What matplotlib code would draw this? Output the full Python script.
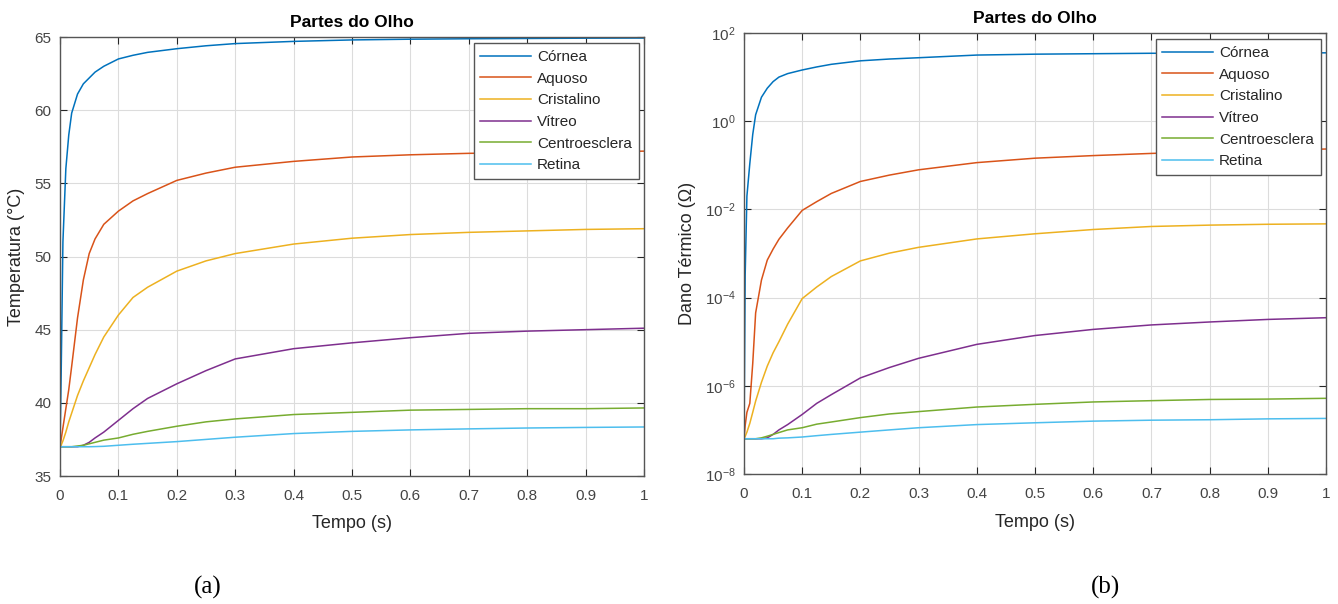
import numpy as np
import matplotlib
matplotlib.use("Agg")
import matplotlib.pyplot as plt

plt.rcParams['font.family'] = ['Liberation Sans', 'DejaVu Sans']
plt.rcParams['mathtext.fontset'] = 'custom'
plt.rcParams['mathtext.rm'] = 'Liberation Sans'
plt.rcParams['mathtext.it'] = 'Liberation Sans'

# tempo (s), same grid for every curve
tempo = [0, 0.002, 0.005, 0.01, 0.015, 0.02, 0.03, 0.04, 0.05, 0.06, 0.075, 0.1,
         0.125, 0.15, 0.2, 0.25, 0.3, 0.4, 0.5, 0.6, 0.7, 0.8, 0.9, 1.0]

partes = ["Córnea", "Aquoso", "Cristalino", "Vítreo", "Centroesclera", "Retina"]
cores = ["#0072BD", "#D95319", "#EDB120", "#7E2F8E", "#77AC30", "#4DBEEE"]

# (a) temperatura (graus C)
temp_cornea = [37, 42, 51, 56.0, 58.3, 59.8, 61.1, 61.8, 62.2, 62.6, 63.0, 63.5,
               63.75, 63.95, 64.2, 64.4, 64.55, 64.7, 64.8, 64.85, 64.88, 64.9, 64.92, 64.93]
temp_aquoso = [37, 37.5, 38.3, 39.6, 40.9, 42.5, 45.8, 48.4, 50.2, 51.2, 52.2, 53.1,
               53.8, 54.3, 55.2, 55.7, 56.1, 56.5, 56.8, 56.95, 57.05, 57.1, 57.15, 57.2]
temp_cristalino = [37, 37.1, 37.4, 38.0, 38.7, 39.3, 40.5, 41.5, 42.4, 43.3, 44.5, 46.0,
                   47.2, 47.9, 49.0, 49.7, 50.2, 50.85, 51.25, 51.5, 51.65, 51.75, 51.85, 51.9]
temp_vitreo = [37, 37, 37, 37, 37, 37, 37, 37.1, 37.3, 37.6, 38.0, 38.8,
               39.6, 40.3, 41.3, 42.2, 43.0, 43.7, 44.1, 44.45, 44.75, 44.9, 45.0, 45.1]
temp_centro = [37, 37, 37, 37, 37, 37, 37.05, 37.1, 37.2, 37.3, 37.45, 37.6,
               37.85, 38.05, 38.4, 38.7, 38.9, 39.2, 39.35, 39.5, 39.55, 39.6, 39.6, 39.65]
temp_retina = [37, 37, 37, 37, 37, 37, 37, 37, 37, 37.01, 37.03, 37.1,
               37.17, 37.23, 37.35, 37.5, 37.65, 37.9, 38.05, 38.15, 38.22, 38.28, 38.32, 38.35]

# (b) dano termico (Omega)
dano_cornea = [6.3e-8, 3.2e-4, 0.02, 0.11, 0.5, 1.4, 3.5, 5.6, 7.9, 10, 12, 14.5,
               17, 19.5, 23.4, 25.7, 27.5, 31.6, 33.1, 33.9, 34.7, 34.7, 35.5, 35.5]
dano_aquoso = [6.3e-8, 1.26e-7, 2.5e-7, 4e-7, 3.2e-6, 4.5e-5, 2.5e-4, 7.1e-4, 1.26e-3, 2.1e-3, 3.8e-3, 9.5e-3,
               0.015, 0.023, 0.043, 0.06, 0.079, 0.115, 0.145, 0.166, 0.186, 0.204, 0.219, 0.234]
dano_cristalino = [6.3e-8, 7.1e-8, 8.9e-8, 1.41e-7, 2.5e-7, 4.5e-7, 1.2e-6, 2.8e-6, 5.6e-6, 1e-5, 2.5e-5, 9.5e-5,
                   1.74e-4, 3.0e-4, 6.8e-4, 1.02e-3, 1.38e-3, 2.14e-3, 2.8e-3, 3.5e-3, 4.1e-3, 4.4e-3, 4.6e-3, 4.7e-3]
dano_vitreo = [6.3e-8, 6.3e-8, 6.3e-8, 6.3e-8, 6.3e-8, 6.3e-8, 6.3e-8, 6.6e-8, 7.9e-8, 1e-7, 1.32e-7, 2.24e-7,
               4e-7, 6.3e-7, 1.51e-6, 2.6e-6, 4.2e-6, 8.7e-6, 1.38e-5, 1.9e-5, 2.4e-5, 2.8e-5, 3.2e-5, 3.5e-5]
dano_centro = [6.3e-8, 6.3e-8, 6.3e-8, 6.3e-8, 6.3e-8, 6.3e-8, 6.6e-8, 7.2e-8, 7.9e-8, 8.7e-8, 1.0e-7, 1.12e-7,
               1.35e-7, 1.51e-7, 1.9e-7, 2.3e-7, 2.6e-7, 3.3e-7, 3.8e-7, 4.3e-7, 4.6e-7, 4.9e-7, 5.0e-7, 5.2e-7]
dano_retina = [6.3e-8, 6.3e-8, 6.3e-8, 6.3e-8, 6.3e-8, 6.3e-8, 6.3e-8, 6.3e-8, 6.3e-8, 6.5e-8, 6.6e-8, 6.9e-8,
               7.4e-8, 7.9e-8, 8.9e-8, 1.0e-7, 1.12e-7, 1.32e-7, 1.45e-7, 1.58e-7, 1.66e-7, 1.7e-7, 1.78e-7, 1.82e-7]

x_ticks = [0, 0.1, 0.2, 0.3, 0.4, 0.5, 0.6, 0.7, 0.8, 0.9, 1]
x_labels = ["0", "0.1", "0.2", "0.3", "0.4", "0.5", "0.6", "0.7", "0.8", "0.9", "1"]
temp_ticks = [35, 40, 45, 50, 55, 60, 65]
dano_ticks = [1e-8, 1e-6, 1e-4, 1e-2, 1e0, 1e2]
dano_labels = [r"$10^{-8}$", r"$10^{-6}$", r"$10^{-4}$", r"$10^{-2}$", r"$10^{0}$", r"$10^{2}$"]

temps = [temp_cornea, temp_aquoso, temp_cristalino, temp_vitreo, temp_centro, temp_retina]
danos = [dano_cornea, dano_aquoso, dano_cristalino, dano_vitreo, dano_centro, dano_retina]

fig = plt.figure(figsize=(13.38, 6.04), dpi=100)
ax1 = fig.add_axes([60/1338, 128/604, 584/1338, 439/604])
ax2 = fig.add_axes([744/1338, 130/604, 582/1338, 441/604])

cinza = "#262626"

def estilo(ax):
    ax.set_xlim(0, 1)
    ax.set_xticks(x_ticks)
    ax.set_xticklabels(x_labels)
    ax.grid(True, color="#dcdcdc", linewidth=0.8)
    ax.set_axisbelow(True)
    ax.tick_params(direction="in", top=True, right=True, length=5, width=0.8,
                   color=cinza, labelcolor="#444444", labelsize=11)
    ax.tick_params(axis="x", pad=9)
    ax.tick_params(axis="y", pad=6)
    ax.tick_params(which="minor", length=0)
    for s in ax.spines.values():
        s.set_color("#555555")
        s.set_linewidth(1.0)
    ax.set_title("Partes do Olho", fontsize=12.5, fontweight="bold", pad=7)
    ax.set_xlabel("Tempo (s)", fontsize=13, color=cinza)
    leg = ax.legend(loc="upper right", bbox_to_anchor=(0.991, 0.986), borderaxespad=0,
                    fontsize=11, fancybox=False, framealpha=1, edgecolor="#555555",
                    handlelength=3.3, handletextpad=0.4, labelspacing=0.5, borderpad=0.45)
    leg.get_frame().set_linewidth(1.0)
    for txt in leg.get_texts():
        txt.set_color(cinza)

for nome, cor, serie in zip(partes, cores, temps):
    ax1.plot(tempo, serie, color=cor, linewidth=1.1, label=nome)
ax1.set_ylim(35, 65)
ax1.set_yticks(temp_ticks)
ax1.set_ylabel("Temperatura (°C)", fontsize=13, color=cinza)
estilo(ax1)
ax1.yaxis.set_label_coords(-0.06, 0.5)
ax1.xaxis.set_label_coords(0.5, -0.088)

for nome, cor, serie in zip(partes, cores, danos):
    ax2.semilogy(tempo, serie, color=cor, linewidth=1.1, label=nome)
ax2.set_ylim(1e-8, 1e2)
ax2.set_yticks(dano_ticks)
ax2.set_yticklabels(dano_labels)
ax2.set_ylabel("Dano Térmico (Ω)", fontsize=13, color=cinza)
estilo(ax2)
ax2.yaxis.set_label_coords(-0.082, 0.5)
ax2.xaxis.set_label_coords(0.5, -0.091)

fig.text(208/1338, 1 - 587/604, "(a)", fontsize=18, family="Liberation Serif", ha="center", va="center")
fig.text(1105/1338, 1 - 587/604, "(b)", fontsize=18, family="Liberation Serif", ha="center", va="center")

fig.savefig("out.png", dpi=100, facecolor="white")
